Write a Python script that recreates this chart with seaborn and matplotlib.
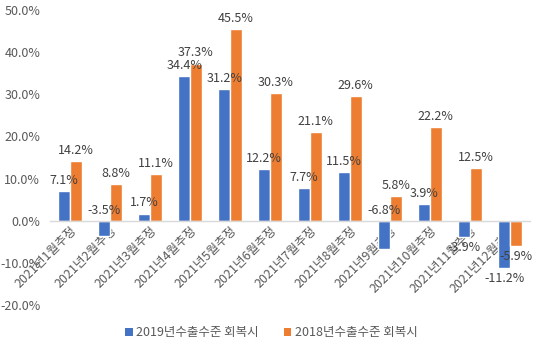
import matplotlib
matplotlib.use("Agg")
import matplotlib.pyplot as plt
import seaborn as sns
import pandas as pd
from matplotlib.ticker import FuncFormatter, MultipleLocator
from matplotlib.patches import Patch

months = [f"2021년{m}월추정" for m in range(1, 13)]
series_names = ["2019년수출수준 회복시", "2018년수출수준 회복시"]
vals_2019 = [7.1, -3.5, 1.7, 34.4, 31.2, 12.2, 7.7, 11.5, -6.8, 3.9, -3.9, -11.2]
vals_2018 = [14.2, 8.8, 11.1, 37.3, 45.5, 30.3, 21.1, 29.6, 5.8, 22.2, 12.5, -5.9]
# label placement for negative values in the reference ("up" = above zero line)
neg_place_2019 = ["", "up", "", "", "", "", "", "", "up", "", "down", "down"]
neg_place_2018 = [""] * 11 + ["down"]

colors = ["#4472C4", "#ED7D31"]

df = pd.DataFrame({
    "month": months * 2,
    "series": [series_names[0]] * 12 + [series_names[1]] * 12,
    "value": vals_2019 + vals_2018,
})

sns.set_theme(style="white")
plt.rcParams["font.family"] = ["Noto Sans CJK KR", "DejaVu Sans"]

FS = 9

fig = plt.figure(figsize=(5.43, 3.44), dpi=100)
ax = fig.add_axes([0.092, 0.113, 0.884, 0.858])

sns.barplot(data=df, x="month", y="value", hue="series", order=months,
            hue_order=series_names, palette=colors, width=0.58,
            saturation=1, ax=ax, legend=False)

ax.set_ylim(-20, 50)
ax.set_xlim(-0.5, 11.5)
ax.yaxis.set_major_locator(MultipleLocator(10))
ax.yaxis.set_major_formatter(FuncFormatter(lambda v, p: f"{v:.1f}%"))
ax.set_xlabel("")
ax.set_ylabel("")

for s in ["top", "right", "left"]:
    ax.spines[s].set_visible(False)
ax.spines["bottom"].set_position(("data", 0))
ax.spines["bottom"].set_color("#D9D9D9")
ax.spines["bottom"].set_linewidth(1)
ax.tick_params(axis="both", length=0, labelsize=FS, colors="#595959")
ax.tick_params(axis="x", pad=2)
ax.tick_params(axis="y", pad=7)
for lab in ax.get_xticklabels():
    lab.set_rotation(45)
    lab.set_ha("right")
    lab.set_rotation_mode("anchor")

placements = [neg_place_2019, neg_place_2018]
for cont, vals, place in zip(ax.containers, [vals_2019, vals_2018], placements):
    for patch, v, pl in zip(cont.patches, vals, place):
        xc = patch.get_x() + patch.get_width() / 2
        if v >= 0:
            ax.annotate(f"{v:.1f}%", (xc, v), xytext=(0, 3), textcoords="offset points",
                        ha="center", va="bottom", fontsize=FS, color="#404040")
        elif pl == "up":
            ax.annotate(f"{v:.1f}%", (xc, 0), xytext=(0, 3), textcoords="offset points",
                        ha="center", va="bottom", fontsize=FS, color="#404040")
        else:
            ax.annotate(f"{v:.1f}%", (xc, v), xytext=(0, -3), textcoords="offset points",
                        ha="center", va="top", fontsize=FS, color="#404040")

handles = [Patch(facecolor=c, edgecolor="none") for c in colors]
fig.legend(handles, series_names, loc="center", bbox_to_anchor=(0.5, 0.032), ncol=2,
           frameon=False, fontsize=FS, handlelength=0.6, handleheight=0.6,
           handletextpad=0.3, columnspacing=2.0, labelcolor="#595959")

fig.savefig("out.png", dpi=100)
